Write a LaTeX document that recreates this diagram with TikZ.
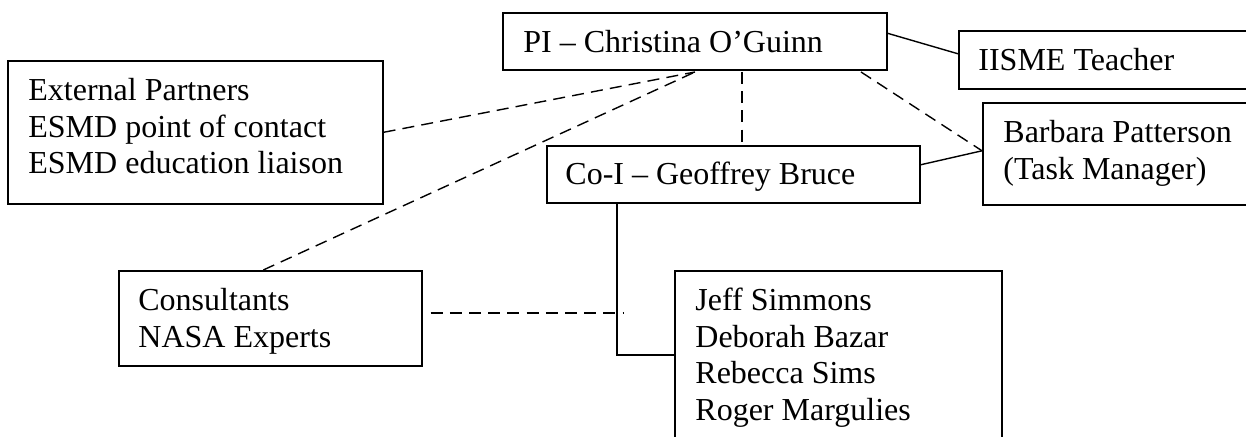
\documentclass[tikz,border=0pt]{standalone}
\usepackage{fontspec}
\setmainfont{Liberation Serif}
\usepackage{tikz}
\usetikzlibrary{calc}

\tikzset{
    box/.style={draw, line width=0.8pt, inner sep=0pt, anchor=north west},
    txt/.style={inner sep=0pt, anchor=north west, align=left, font=\fontsize{16}{18.3}\selectfont},
    solidline/.style={line width=0.7pt},
    dashline/.style={line width=0.7pt, dash pattern=on 6pt off 3.6pt},
}

\begin{document}
\begin{tikzpicture}[x=0.5pt, y=-0.5pt]
    \useasboundingbox (0,0) rectangle (1246,437);
    \clip (0,0) rectangle (1246,437);

    % Boxes (top left corners)
    \node[box, minimum width=192pt, minimum height=28.5pt] (pi) at (502,12) {};
    \node[box, minimum width=200pt, minimum height=29pt] (iisme) at (958,30) {};
    \node[box, minimum width=187.5pt, minimum height=71.5pt] (ext) at (7,60) {};
    \node[box, minimum width=200pt, minimum height=51pt] (bp) at (982,102) {};
    \node[box, minimum width=186.5pt, minimum height=28.5pt] (coi) at (546,145) {};
    \node[box, minimum width=151.5pt, minimum height=47.5pt] (cons) at (118,270) {};
    \node[box, minimum width=163.5pt, minimum height=100pt] (jeff) at (674,270) {};

    % Texts
    \node[txt] (pi-t) at (523,26.4) {\strut PI -- Christina O’Guinn};
    \node[txt] (iisme-t) at (978,44.4) {\strut IISME Teacher};
    \node[txt] (ext-t) at (28,74.4) {\strut External Partners\\ESMD point of contact\\ESMD education liaison};
    \node[txt] (bp-t) at (1003,116.4) {\strut Barbara Patterson\\(Task Manager)};
    \node[txt] (coi-t) at (565,158.4) {\strut Co-I -- Geoffrey Bruce};
    \node[txt] (cons-t) at (138,284.4) {\strut Consultants\\NASA Experts};
    \node[txt] (jeff-t) at (695,284.4) {\strut Jeff Simmons\\Deborah Bazar\\Rebecca Sims\\Roger Margulies};

    % Connector points
    \coordinate (hub) at (695,72);
    \coordinate (drop) at (742,72);
    \coordinate (fork) at (861,72);
    \coordinate (bend) at (617,355);
    \coordinate (tip) at (623,313);

    % Dashed links
    \draw[dashline] (ext.east) -- (hub);
    \draw[dashline] ([xshift=-3.5pt]cons.north) -- (hub);
    \draw[dashline] (drop) -- (drop |- coi.north);
    \draw[dashline] (fork) -- ([yshift=1.5pt]bp.west);
    \draw[dashline] ([xshift=4pt]tip -| cons.east) -- (tip);

    % Solid links
    \draw[solidline] ([yshift=4pt]pi.east) -- ([yshift=3pt]iisme.west);
    \draw[solidline] ([yshift=4.75pt]coi.east) -- ([yshift=1.5pt]bp.west);
    \draw[solidline] (bend |- coi.south) -- (bend) -- (bend -| jeff.west);
\end{tikzpicture}
\end{document}
